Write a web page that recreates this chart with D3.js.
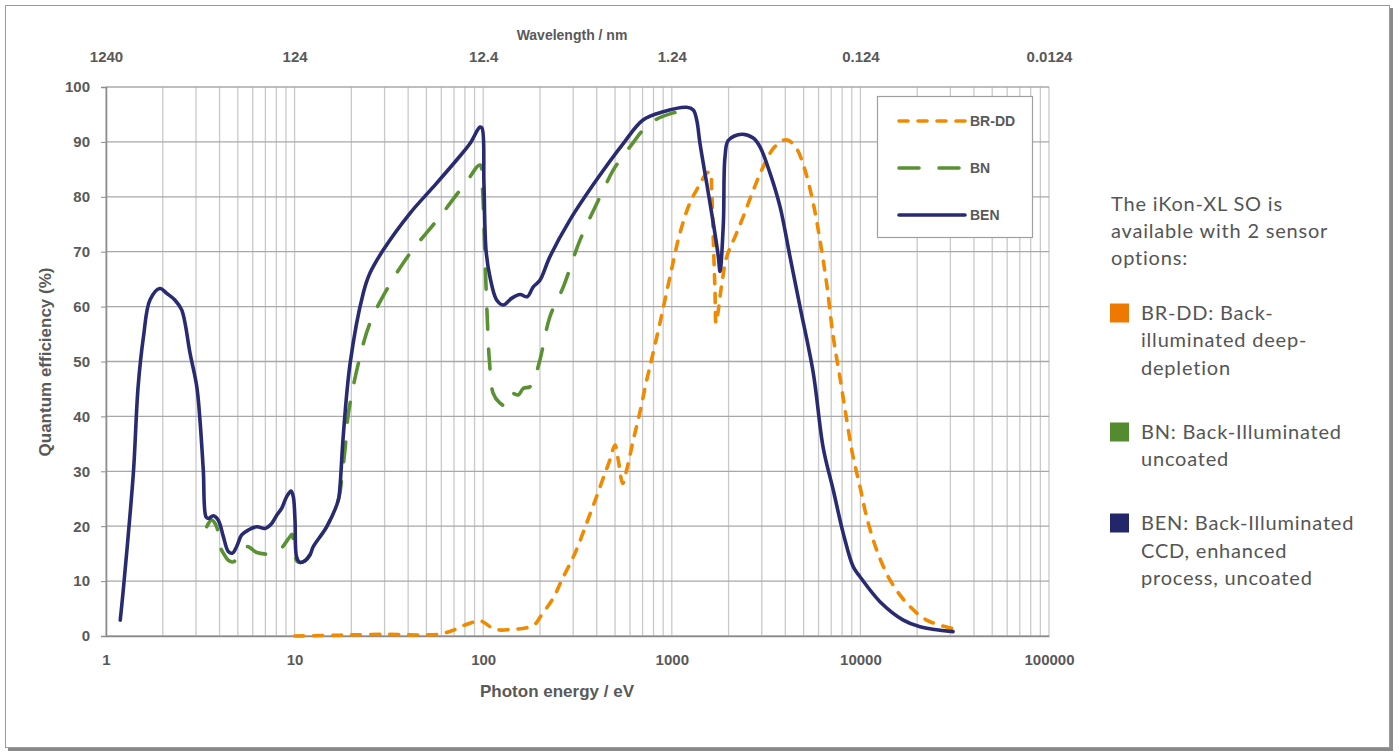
<!DOCTYPE html>
<html>
<head>
<meta charset="utf-8">
<script src="https://cdn.jsdelivr.net/npm/d3@7"></script>
<style>
  body { margin: 0; background: #fff; }
  svg { display: block; }
  .axis text { font-family: "Liberation Sans", Arial, sans-serif; font-weight: bold; font-size: 15px; fill: #595959; }
</style>
</head>
<body>
<svg id="chart" width="1400" height="753"></svg>
<script>
// photon energy (eV) and QE (%)
const brddEnergy = [10, 15, 20, 30, 40, 50, 60, 70, 80, 90, 98, 110, 122, 140, 170, 190, 200, 236, 261, 307, 353, 399, 442, 470, 500, 520, 549, 576, 625, 678, 736, 766, 865, 978, 1105, 1248, 1383, 1532, 1596, 1627, 1660, 1694, 1716, 1765, 1842, 1956, 2163, 2393, 2704, 3055, 3452, 3900, 4142, 4590, 5080, 5625, 6105, 6622, 7178, 7800, 8450, 9100, 9950, 10790, 12190, 14360, 17590, 22440, 30470];
const brddQE = [0, 0.1, 0.2, 0.3, 0.2, 0.2, 0.4, 1.1, 2.0, 2.6, 2.7, 1.6, 1.1, 1.2, 1.5, 2.3, 3.4, 7.0, 10.2, 15.1, 20.5, 25.4, 29.6, 32.1, 34.8, 32.1, 27.8, 30.2, 35.7, 40.8, 46.6, 49.1, 57.0, 65.4, 73.4, 78.9, 81.8, 84.3, 84.5, 81.2, 72.1, 63.0, 57.0, 59.4, 64.2, 69.1, 72.7, 76.4, 81.2, 85.5, 88.8, 90.3, 90.3, 88.8, 84.9, 78.8, 72.1, 64.2, 54.5, 47.0, 39.5, 33.0, 27.2, 21.7, 15.7, 10.2, 6.0, 2.9, 1.4];

const bnEnergy = [3.42, 3.63, 3.86, 4.02, 4.19, 4.45, 4.73, 5.57, 6.30, 7.11, 7.7, 8.37, 9.45, 9.7, 10.0, 10.3, 10.68, 11.36, 12.07, 12.57, 14.8, 17.06, 17.97, 18.5, 19.3, 21.8, 25.1, 31.4, 40.9, 59, 81.7, 96.2, 99, 102, 105, 107.8, 113, 122, 132, 141, 153.5, 163, 177, 188, 200, 226, 266, 326, 433, 490, 600, 766, 978, 1222, 1300];
const bnQE = [19.9, 21.1, 19.9, 16.3, 15.1, 13.8, 13.5, 16.3, 15.2, 14.9, 14.9, 15.7, 18.1, 18.5, 15.0, 13.6, 13.4, 13.7, 14.8, 16.3, 19.9, 24.8, 30.2, 33.9, 40.6, 49.7, 57.0, 63.6, 69.7, 76.4, 82.8, 85.8, 81.8, 69.7, 58.2, 50.3, 44.2, 42.5, 41.9, 44.2, 43.9, 45.1, 45.4, 47.2, 50.3, 58.2, 63.6, 72.1, 81.2, 84.9, 89.1, 93.4, 95.1, 95.7, 95.7];

const benEnergy = [1.19, 1.235, 1.31, 1.40, 1.48, 1.58, 1.71, 1.93, 2.10, 2.32, 2.52, 2.79, 3.03, 3.15, 3.28, 3.39, 3.49, 3.71, 3.94, 4.19, 4.45, 4.69, 4.93, 5.24, 5.68, 6.30, 6.97, 7.56, 8.04, 8.55, 9.08, 9.57, 9.84, 10.05, 10.25, 10.68, 11.36, 12.07, 12.57, 14.8, 17.06, 17.4, 18.1, 19.7, 23.1, 25.1, 29.5, 40.9, 54.4, 72.3, 85.1, 96.2, 98.6, 100.9, 103.5, 108.6, 117.8, 127.8, 141.4, 156.7, 171.2, 184.2, 199.9, 225.9, 288.5, 399.3, 552.6, 703.6, 901, 1199, 1300, 1355, 1411, 1530, 1660, 1765, 1802, 1877, 1915, 1995, 2346, 2703, 2935, 3317, 3748, 4233, 4783, 5625, 6356, 7178, 8110, 9164, 9950, 12700, 16880, 20700, 31000];
const benQE = [2.9, 8.4, 18.1, 30.2, 45.4, 54.5, 61.2, 63.3, 62.4, 61.2, 59.4, 51.5, 45.4, 39.3, 30.2, 21.7, 21.4, 21.9, 21.1, 18.1, 15.4, 15.1, 16.3, 18.4, 19.3, 19.9, 19.6, 20.5, 22.0, 23.3, 25.4, 26.4, 25.4, 21.1, 14.4, 13.4, 13.7, 14.8, 16.3, 19.9, 24.8, 27.2, 36.3, 49.7, 62.4, 66.1, 70.3, 77.0, 81.8, 86.7, 89.7, 92.7, 92.5, 82.5, 70.3, 65.4, 61.2, 60.3, 61.5, 62.2, 61.8, 63.6, 64.8, 69.1, 75.8, 83.1, 89.7, 94.0, 95.5, 96.3, 95.8, 94.0, 89.7, 82.5, 75.2, 69.1, 66.4, 75.2, 87.3, 90.3, 91.4, 90.7, 89.1, 84.3, 78.2, 69.1, 60.0, 47.9, 34.2, 26.6, 18.7, 12.6, 10.8, 6.25, 2.9, 1.7, 0.8];

// axis ticks
const energyTicks = [1, 10, 100, 1000, 10000, 100000];
const wavelengthLabels = ["1240", "124", "12.4", "1.24", "0.124", "0.0124"];
const qeTicks = [0, 10, 20, 30, 40, 50, 60, 70, 80, 90, 100];

// series setup
const seriesNames = ["BR-DD", "BN", "BEN"];
const seriesColors = ["#F08A00", "#5A9132", "#292B72"];
const seriesDash = ["9,10", "20,20", null];
const seriesWidth = [3.6, 3.6, 3.6];

// side notes
const noteIntro = ["The iKon-XL SO is", "available with 2 sensor", "options:"];
const noteItems = [
  ["BR-DD: Back-", "illuminated deep-", "depletion"],
  ["BN: Back-Illuminated", "uncoated"],
  ["BEN: Back-Illuminated", "CCD, enhanced", "process, uncoated"]
];
const noteSquareColors = ["#EE7800", "#558B2F", "#23266A"];

const zip = (es, qs) => es.map((e, i) => ({ e: e, v: qs[i] }));
const seriesData = [zip(brddEnergy, brddQE), zip(bnEnergy, bnQE), zip(benEnergy, benQE)];

const svg = d3.select("#chart");

// outer frame with a soft shadow on right/bottom
svg.append("rect").attr("x", 8).attr("y", 8).attr("width", 1385).attr("height", 743).attr("fill", "#8a8a8a");
svg.append("rect").attr("x", 5.5).attr("y", 5.5).attr("width", 1384).attr("height", 742)
  .attr("fill", "#fff").attr("stroke", "#9a9a9a").attr("stroke-width", 1);

const plotLeft = 106, plotRight = 1049, plotTop = 87, plotBottom = 636;

const x = d3.scaleLog().domain([1, 100000]).range([plotLeft, plotRight]);
const y = d3.scaleLinear().domain([0, 100]).range([plotBottom, plotTop]);

// vertical grid on every 1..9 x 10^n
const minorTicks = [];
for (let d = 0; d < 5; d++) {
  for (let k = 1; k <= 9; k++) minorTicks.push(k * Math.pow(10, d));
}
minorTicks.push(100000);

svg.append("g").selectAll("line")
  .data(minorTicks)
  .enter().append("line")
  .attr("x1", d => x(d)).attr("x2", d => x(d))
  .attr("y1", plotTop).attr("y2", plotBottom)
  .attr("stroke", "#c9c9c9").attr("stroke-width", 1.3);

svg.append("g").selectAll("line")
  .data(qeTicks)
  .enter().append("line")
  .attr("x1", plotLeft).attr("x2", plotRight)
  .attr("y1", d => y(d)).attr("y2", d => y(d))
  .attr("stroke", "#a8a8a8").attr("stroke-width", 1.3);

// axes
const bottomAxis = svg.append("g").attr("class", "axis")
  .attr("transform", `translate(0,${plotBottom})`)
  .call(d3.axisBottom(x).tickValues(energyTicks).tickFormat(d3.format("d")).tickSize(0).tickPadding(18));
bottomAxis.select(".domain").attr("stroke", "#8c8c8c").attr("stroke-width", 1.6);
bottomAxis.selectAll("text").attr("font-size", 16);

const leftAxis = svg.append("g").attr("class", "axis")
  .attr("transform", `translate(${plotLeft},0)`)
  .call(d3.axisLeft(y).tickValues(qeTicks).tickSize(5).tickPadding(11));
leftAxis.select(".domain").attr("stroke", "#8c8c8c").attr("stroke-width", 1.6);
leftAxis.selectAll(".tick line").attr("stroke", "#8c8c8c");

const topAxis = svg.append("g").attr("class", "axis")
  .attr("transform", "translate(0,62)")
  .call(d3.axisTop(x).tickValues(energyTicks).tickFormat((d, i) => wavelengthLabels[i]).tickSize(0).tickPadding(0));
topAxis.select(".domain").remove();

// axis titles
const titleStyle = (sel, size) => sel
  .attr("font-family", "'Liberation Sans', Arial, sans-serif")
  .attr("font-weight", "bold").attr("font-size", size).attr("fill", "#595959")
  .attr("text-anchor", "middle");

svg.append("text").attr("x", 572).attr("y", 40).text("Wavelength  / nm").call(titleStyle, 14);
svg.append("text").attr("x", 557).attr("y", 697).text("Photon energy / eV").call(titleStyle, 17);
svg.append("text").attr("transform", "translate(51,362) rotate(-90)").text("Quantum efficiency (%)").call(titleStyle, 17);

// curves
const line = d3.line()
  .x(d => x(d.e))
  .y(d => y(d.v))
  .curve(d3.curveCatmullRom.alpha(0.5));

svg.append("g").selectAll("path")
  .data(seriesData)
  .enter().append("path")
  .attr("d", line)
  .attr("fill", "none")
  .attr("stroke", (d, i) => seriesColors[i])
  .attr("stroke-width", (d, i) => seriesWidth[i])
  .attr("stroke-dasharray", (d, i) => seriesDash[i])
  .attr("stroke-linecap", "round")
  .attr("stroke-linejoin", "round");

// legend box
const legend = svg.append("g");
legend.append("rect").attr("x", 877.5).attr("y", 96.5).attr("width", 155).attr("height", 141)
  .attr("fill", "#fff").attr("stroke", "#a0a0a0").attr("stroke-width", 1.2);

const legendY = [121, 168, 215];
seriesNames.forEach((name, i) => {
  legend.append("line")
    .attr("x1", 899).attr("x2", 965)
    .attr("y1", legendY[i]).attr("y2", legendY[i])
    .attr("stroke", seriesColors[i])
    .attr("stroke-width", seriesWidth[i])
    .attr("stroke-dasharray", seriesDash[i])
    .attr("stroke-linecap", "round");
  legend.append("text")
    .attr("x", 970).attr("y", legendY[i]).attr("dy", "0.36em")
    .attr("font-family", "'Liberation Sans', Arial, sans-serif")
    .attr("font-weight", "bold").attr("font-size", 14).attr("fill", "#595959")
    .text(name);
});

// side notes
const noteFont = sel => sel
  .attr("font-family", "Lato, 'Open Sans', sans-serif")
  .attr("font-weight", 400).attr("font-size", 20).attr("letter-spacing", 0.8)
  .attr("fill", "#555");

const notes = svg.append("g");
const introY = [204, 231, 258];
noteIntro.forEach((t, i) => {
  notes.append("text").attr("x", 1111).attr("y", introY[i]).attr("dy", "0.35em").text(t).call(noteFont);
});

const itemY = [[313, 340, 368], [432, 459], [523, 551, 578]];
noteItems.forEach((lines, i) => {
  notes.append("rect")
    .attr("x", 1110).attr("y", itemY[i][0] - 9.5)
    .attr("width", 19).attr("height", 19)
    .attr("fill", noteSquareColors[i]);
  lines.forEach((t, j) => {
    notes.append("text").attr("x", 1141).attr("y", itemY[i][j]).attr("dy", "0.35em").text(t).call(noteFont);
  });
});
</script>
</body>
</html>
